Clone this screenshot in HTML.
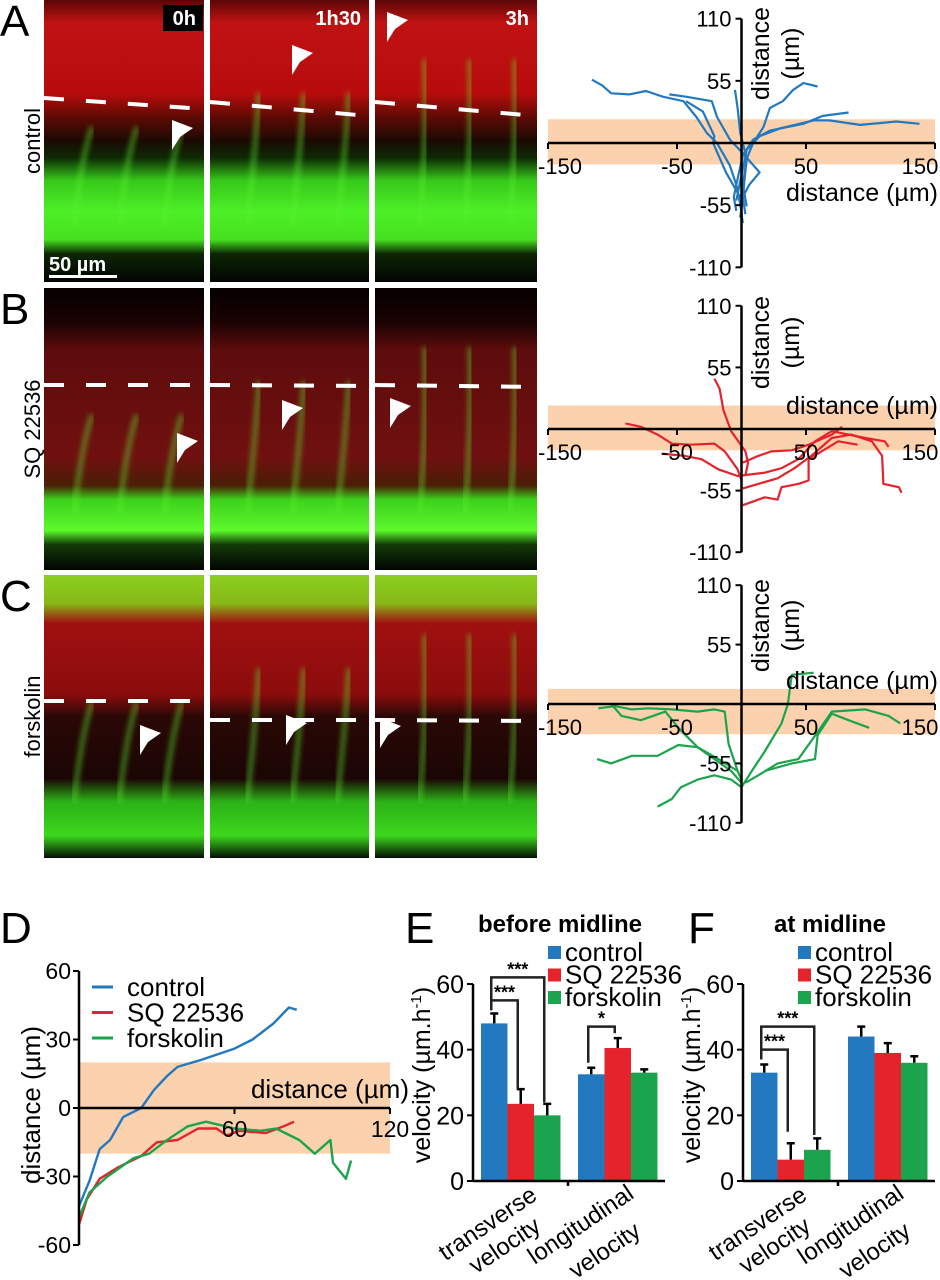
<!DOCTYPE html>
<html><head><meta charset="utf-8"><style>
html,body{margin:0;padding:0;background:#fff;}
svg{display:block;font-family:"Liberation Sans",Arial,sans-serif;}
</style></head><body>
<svg id="fig" width="940" height="1280" viewBox="0 0 940 1280" xmlns="http://www.w3.org/2000/svg">
<defs>
<linearGradient id="gA" x1="0" y1="0" x2="0" y2="1">
<stop offset="0" stop-color="#5a0606"/><stop offset="0.08" stop-color="#c01212"/><stop offset="0.33" stop-color="#b80c0c"/><stop offset="0.42" stop-color="#5a0a04"/><stop offset="0.5" stop-color="#1a0a02"/><stop offset="0.56" stop-color="#0e2a04"/><stop offset="0.64" stop-color="#36c81a"/><stop offset="0.75" stop-color="#4cf026"/><stop offset="0.85" stop-color="#46e020"/><stop offset="0.9" stop-color="#0c2604"/><stop offset="1" stop-color="#020402"/>
</linearGradient>
<linearGradient id="gB" x1="0" y1="0" x2="0" y2="1">
<stop offset="0" stop-color="#060000"/><stop offset="0.12" stop-color="#1a0202"/><stop offset="0.22" stop-color="#5e0c0c"/><stop offset="0.6" stop-color="#701010"/><stop offset="0.7" stop-color="#4a1e06"/><stop offset="0.75" stop-color="#3cd01c"/><stop offset="0.86" stop-color="#5cfa2c"/><stop offset="0.91" stop-color="#123a06"/><stop offset="1" stop-color="#020402"/>
</linearGradient>
<linearGradient id="gC" x1="0" y1="0" x2="0" y2="1">
<stop offset="0" stop-color="#8ad020"/><stop offset="0.1" stop-color="#88b818"/><stop offset="0.17" stop-color="#a01010"/><stop offset="0.42" stop-color="#8c0c0c"/><stop offset="0.5" stop-color="#2a0806"/><stop offset="0.72" stop-color="#1a0604"/><stop offset="0.8" stop-color="#2cb016"/><stop offset="0.92" stop-color="#3cd81c"/><stop offset="1" stop-color="#041004"/>
</linearGradient>
<filter id="blur3"><feGaussianBlur stdDeviation="3"/></filter>
</defs>
<g id="micro"></g>
<g id="traj"></g>
<g id="plotD"></g>
<g id="plotE"></g>
<g id="plotF"></g>
</svg>
<script>
// ===== data =====
const conditions = ["control", "SQ 22536", "forskolin"];
const colors = ["#2379bf", "#e5232b", "#1ca34d"];
const timepoints = ["0h", "1h30", "3h"];
const trajA = [
 [[-116,56],[-108,51],[-101,44],[-87,43],[-74,46],[-61,41],[-45,37],[-35,23],[-27,9],[-19,0],[-9,-20],[-4,-37],[-1,-54],[1,-71]],
 [[-56,43],[-43,41],[-23,37],[-19,23],[-9,3],[1,-9],[14,-26],[6,-37],[1,-48],[-1,-66]],
 [[-5,47],[-3,31],[-1,9],[4,-14],[1,-37],[4,-56]],
 [[59,50],[48,53],[40,47],[32,37],[22,31],[17,14],[9,0],[4,-14],[1,-48],[3,-63]],
 [[138,17],[120,19],[92,16],[68,20],[56,20],[30,13],[14,6],[4,-6],[-1,-34],[-4,-51]],
 [[83,27],[63,24],[48,17],[22,11],[9,3],[1,-11],[-4,-37],[-6,-48],[-4,-60]],
 [[-43,37],[-30,28],[-21,6],[-22,0],[-12,-26],[-1,-48]]
];
const trajB = [
 [[-21,45],[-17,36],[-14,17],[-8,-2],[3,-20],[5,-30],[3,-42]],
 [[-90,5],[-78,2],[-65,-5],[-54,-13],[-39,-14],[-21,-13],[-13,-20],[-3,-36],[0,-46]],
 [[-62,-22],[-44,-24],[-31,-27],[-18,-36],[-3,-42],[18,-39],[31,-35],[44,-27],[57,-11],[70,-2],[83,-5],[96,-8],[111,-11],[114,-16]],
 [[1,-53],[13,-49],[28,-44],[41,-35],[54,-24],[70,-8],[85,-5],[101,-11],[109,-24],[110,-49],[122,-52],[124,-57]],
 [[1,-68],[18,-61],[28,-63],[31,-52],[44,-49],[52,-46],[52,-27],[62,-20],[75,-11],[90,-14]],
 [[1,-30],[13,-24],[23,-20],[39,-19],[52,-14],[70,-5],[78,2]]
];
const trajC = [
 [[-111,-4],[-98,-2],[-85,-5],[-72,-4],[-54,-5],[-34,-7],[-21,-5],[-13,-7],[-10,-37],[-3,-62],[0,-70]],
 [[-101,0],[-93,-11],[-78,-15],[-59,-7],[-49,-22],[-34,-40],[-21,-51],[-8,-62],[0,-73]],
 [[-112,-51],[-101,-55],[-85,-48],[-65,-48],[-49,-38],[-34,-40],[-18,-51],[-3,-62]],
 [[-65,-95],[-54,-88],[-47,-77],[-34,-70],[-21,-66],[-8,-70],[0,-77]],
 [[56,29],[39,27],[36,0],[31,-18],[18,-44],[8,-62],[0,-77]],
 [[123,-18],[114,-11],[96,-5],[70,-7],[59,-26],[44,-51],[28,-55],[13,-66],[3,-73]],
 [[99,-22],[83,-15],[70,-9],[59,-29],[57,-51],[39,-55],[18,-62]]
];
const trajTicksX = [-150, -50, 50, 150];
const trajTicksY = [110, 55, -55, -110];
const dControl = [[0,-43],[4,-32],[8,-18],[12,-14],[17,-4],[24,0],[29,8],[34,14],[38,18],[47,21],[60,26],[67,30],[75,37],[81,44],[84,43]];
const dSQ = [[0,-51],[3,-40],[8,-31],[15,-26],[24,-21],[30,-15],[38,-14],[46,-9],[53,-9],[57,-12],[62,-10],[72,-11],[79,-8],[83,-6]];
const dFsk = [[0,-48],[4,-37],[11,-30],[21,-22],[27,-20],[34,-14],[42,-8],[49,-6],[60,-9],[70,-10],[76,-9],[85,-14],[91,-20],[97,-14],[98,-24],[103,-31],[105,-23]];
const dTicksY = [60, 30, 0, -30, -60];
const dTicksX = [60, 120];
const velGroups = ["transverse velocity", "longitudinal velocity"];
const eMeans = [[48, 23.5, 20], [32.5, 40.5, 33]];
const eErr = [[3, 4.5, 3.5], [2, 3, 1]];
const fMeans = [[33, 6.5, 9.5], [44, 39, 36]];
const fErr = [[2.5, 5, 3.5], [3, 3, 2]];
const velTicks = [0, 20, 40, 60];

// ===== helpers =====
const NS = "http://www.w3.org/2000/svg";
function mk(parent, tag, attrs, text) {
  const e = document.createElementNS(NS, tag);
  for (const k in attrs) e.setAttribute(k, attrs[k]);
  if (text !== undefined) e.textContent = text;
  parent.appendChild(e);
  return e;
}
const FONT = '"Liberation Sans",Arial,sans-serif';

// ===== microscopy =====
const micro = document.getElementById('micro');
const cols = [[44,204],[210,369],[375,537]];
const rows = [{y0:0,y1:282,g:'gA'},{y0:288,y1:570,g:'gB'},{y0:575,y1:858,g:'gC'}];
const dashY = [[[98,109],[102,116],[102,116]],[[385,385],[385,386],[385,387]],[[701,701],[720,720],[720,721]]];
const arrows = [[[172,120],[292,45],[387,12]],[[177,433],[282,400],[390,398]],[[140,725],[286,715],[380,718]]];
const rowLabels = ["control","SQ 22536","forskolin"];
const letters = ["A","B","C"];
rows.forEach((r,ri)=>{
  cols.forEach((c,ci)=>{
    const g = mk(micro,'g',{});
    
    
    mk(g,'rect',{x:c[0],y:r.y0,width:c[1]-c[0],height:r.y1-r.y0,fill:'url(#'+r.g+')'});
    const h = r.y1-r.y0;
    for (let k=0;k<3;k++){
      const x = c[0]+30+k*45+ci*7;
      mk(g,'path',{d:`M${x} ${r.y0+h*0.8} Q${x+8} ${r.y0+h*0.55} ${x+18-ci*6} ${r.y0+h*(0.45-ci*0.12)}`,stroke:'#5cf030',fill:'none','stroke-width':3,opacity:0.8,filter:'url(#blur3)'});
    }
    const dy = dashY[ri][ci];
    const dl = mk(g,'line',{x1:c[0],y1:dy[0],x2:c[1],y2:dy[1],stroke:'#fff','stroke-width':4,'stroke-dasharray':'20 22'});
    
    
    const a = arrows[ri][ci];
    const ar = mk(g,'polygon',{points:`${a[0]},${a[1]} ${a[0]+21},${a[1]+8} ${a[0]+8},${a[1]+17} ${a[0]},${a[1]+30}`,fill:'#fff'});
    
    
    if (ri===0){
      const tw = 40;
      if (ci===0) mk(g,'rect',{x:c[1]-tw-1,y:5,width:tw,height:26,fill:'#000'});
      const t = mk(g,'text',{x:c[1]-8,y:25,'text-anchor':'end',fill:'#fff','font-size':20,'font-weight':'bold','font-family':FONT},timepoints[ci]);
      
      
    }
  });
  const L = mk(micro,'text',{x:0,y:r.y0+36,'font-size':44,'font-family':FONT},letters[ri]);
  
  
  const cy = (r.y0+r.y1)/2;
  const rl = mk(micro,'text',{x:0,y:0,'font-size':22,'font-family':FONT,'text-anchor':'middle',transform:`translate(40 ${cy}) rotate(-90)`},rowLabels[ri]);
  
  
});
const sbt = mk(micro,'text',{x:49,y:271,fill:'#fff','font-size':20,'font-weight':'bold','font-family':FONT},'50 µm');


const sb = mk(micro,'rect',{x:49,y:275,width:68,height:3,fill:'#fff'});



// ===== trajectory plots =====
const traj = document.getElementById('traj');
const tx = v => 741.5 + v*1.29;
const tpanels = [
 {data:trajA,c:colors[0],y0:143,s:1.13,band:[21,-19],titleBelow:true,yt:[7,100]},
 {data:trajB,c:colors[1],y0:429,s:1.12,band:[21,-19],titleBelow:false,yt:[295,390]},
 {data:trajC,c:colors[2],y0:704,s:1.08,band:[14,-28],titleBelow:false,yt:[577,674]}
];
tpanels.forEach((p,pi)=>{
  const g = mk(traj,'g',{});
  
  
  const ty = v => p.y0 - v*p.s;
  const band = mk(g,'rect',{x:tx(-150),y:ty(p.band[0]),width:tx(150)-tx(-150),height:ty(p.band[1])-ty(p.band[0]),fill:'#fbd2ad'});
  
  
  p.data.forEach(tr=>{
    const pl = mk(g,'polyline',{points:tr.map(q=>tx(q[0]).toFixed(1)+','+ty(q[1]).toFixed(1)).join(' '),fill:'none',stroke:p.c,'stroke-width':2.2,'stroke-linejoin':'round'});
    
    
  });
  mk(g,'line',{x1:tx(-150),y1:p.y0,x2:tx(150),y2:p.y0,stroke:'#000','stroke-width':2.5});
  mk(g,'line',{x1:tx(0),y1:ty(110),x2:tx(0),y2:ty(-110),stroke:'#000','stroke-width':2.5});
  trajTicksX.forEach(v=>{
    mk(g,'line',{x1:tx(v),y1:p.y0,x2:tx(v),y2:p.y0+6,stroke:'#000','stroke-width':2});
    let lx = tx(v); if (v===-150) lx+=12; if (v===150) lx-=15;
    const t = mk(g,'text',{x:lx,y:p.y0+31,'text-anchor':'middle','font-size':22,'font-family':FONT},String(v));
    
    
  });
  trajTicksY.forEach(v=>{
    mk(g,'line',{x1:tx(0)-6,y1:ty(v),x2:tx(0),y2:ty(v),stroke:'#000','stroke-width':2});
    const t = mk(g,'text',{x:tx(0)-10,y:ty(v)+8,'text-anchor':'end','font-size':22,'font-family':FONT},String(v));
    
    
  });
  const cy = (p.yt[0]+p.yt[1])/2;
  const yt1 = mk(g,'text',{x:0,y:0,'text-anchor':'middle','font-size':25,'font-family':FONT,transform:`translate(769 ${cy}) rotate(-90)`},'distance');
  
  
  const yt2 = mk(g,'text',{x:0,y:0,'text-anchor':'middle','font-size':25,'font-family':FONT,transform:`translate(799 ${cy}) rotate(-90)`},'(µm)');
  
  
  const xt = mk(g,'text',{x:938,y:p.titleBelow?p.y0+58:p.y0-15,'text-anchor':'end','font-size':25,'font-family':FONT},'distance (µm)');
  
  
});

// ===== panel D =====
const gD = document.getElementById('plotD');
const dx = v => 79 + v*(390-79)/120;
const dy = v => 1108 - v*(1108-971)/60;
const Dl = mk(gD,'text',{x:0,y:943,'font-size':44,'font-family':FONT},'D');


const dband = mk(gD,'rect',{x:dx(0),y:dy(20),width:dx(120)-dx(0),height:dy(-20)-dy(20),fill:'#fbd2ad'});


[dControl,dSQ,dFsk].forEach((s,i)=>{
  const pl = mk(gD,'polyline',{points:s.map(q=>dx(q[0]).toFixed(1)+','+dy(q[1]).toFixed(1)).join(' '),fill:'none',stroke:colors[i],'stroke-width':2.4,'stroke-linejoin':'round'});
  
  
});
mk(gD,'line',{x1:dx(0),y1:dy(0),x2:dx(120),y2:dy(0),stroke:'#000','stroke-width':2.5});
mk(gD,'line',{x1:dx(0),y1:dy(60),x2:dx(0),y2:dy(-60),stroke:'#000','stroke-width':2.5});
dTicksY.forEach(v=>{
  mk(gD,'line',{x1:dx(0)-6,y1:dy(v),x2:dx(0),y2:dy(v),stroke:'#000','stroke-width':2});
  const t = mk(gD,'text',{x:dx(0)-8,y:dy(v)+8,'text-anchor':'end','font-size':23,'font-family':FONT},String(v));
  
  
});
dTicksX.forEach(v=>{
  mk(gD,'line',{x1:dx(v),y1:dy(0),x2:dx(v),y2:dy(0)+6,stroke:'#000','stroke-width':2});
  const t = mk(gD,'text',{x:dx(v),y:dy(0)+29,'text-anchor':'middle','font-size':23,'font-family':FONT},String(v));
  
  
});
const dxt = mk(gD,'text',{x:409,y:1098,'text-anchor':'end','font-size':26,'font-family':FONT},'distance (µm)');


const dyt = mk(gD,'text',{x:0,y:0,'text-anchor':'middle','font-size':26,'font-family':FONT,transform:'translate(40 1105) rotate(-90)'},'distance (µm)');


conditions.forEach((c,i)=>{
  const ly = 987 + i*25.5;
  const g = mk(gD,'g',{});
  
  
  mk(g,'line',{x1:92,y1:ly,x2:113,y2:ly,stroke:colors[i],'stroke-width':3});
  mk(g,'text',{x:127,y:ly+9,'font-size':26,'font-family':FONT},c);
});

// ===== bar charts E/F =====
function barChart(gid, letter, title, axisX, letterX, legendX, means, errs, sig) {
  const g = document.getElementById(gid);
  const vy = v => 1181 - v*(1181-984)/60;
  const bw = 26.5;
  const gx = [axisX+8, axisX+105];
  const L = mk(g,'text',{x:letterX,y:943,'font-size':44,'font-family':FONT},letter);
  
  
  const T = mk(g,'text',{x:axisX+87,y:932,'text-anchor':'middle','font-size':24,'font-weight':'bold','font-family':FONT},title);
  
  
  means.forEach((grp,gi)=>{
    grp.forEach((v,ci)=>{
      const x = gx[gi] + ci*bw;
      const b = mk(g,'rect',{x:x,y:vy(v),width:bw,height:vy(0)-vy(v),fill:colors[ci]});
      
      
      const cx = x + bw/2;
      const e = errs[gi][ci];
      const eb = mk(g,'path',{d:`M${cx} ${vy(v)} V${vy(v+e)} M${cx-4} ${vy(v+e)} H${cx+4}`,stroke:'#000','stroke-width':2.5,fill:'none'});
      
      
    });
  });
  mk(g,'line',{x1:axisX,y1:vy(0),x2:axisX+192,y2:vy(0),stroke:'#000','stroke-width':2.5});
  mk(g,'line',{x1:axisX,y1:vy(60),x2:axisX,y2:vy(0),stroke:'#000','stroke-width':2.5});
  mk(g,'line',{x1:axisX+95,y1:vy(0),x2:axisX+95,y2:vy(0)+5,stroke:'#000','stroke-width':2.5});
  velTicks.forEach(v=>{
    mk(g,'line',{x1:axisX-6,y1:vy(v),x2:axisX,y2:vy(v),stroke:'#000','stroke-width':2});
    const t = mk(g,'text',{x:axisX-9,y:vy(v)+9,'text-anchor':'end','font-size':25,'font-family':FONT},String(v));
    
    
  });
  const yt = mk(g,'text',{x:0,y:0,'text-anchor':'middle','font-size':25,'font-family':FONT,transform:`translate(${axisX-43} 1075) rotate(-90)`});
  
  
  yt.appendChild(document.createTextNode('velocity (µm.h'));
  mk(yt,'tspan',{'font-size':15,dy:-9},'-1');
  mk(yt,'tspan',{dy:9},')');
  const cl = [[[axisX+19,1230,'transverse'],[axisX+36,1252,'velocity']],[[axisX+112,1231,'longitudinal'],[axisX+136,1257,'velocity']]];
  cl.forEach((pair,i)=>pair.forEach(p=>{
    const t = mk(g,'text',{x:0,y:0,'text-anchor':'middle','font-size':24,'font-family':FONT,transform:`translate(${p[0]} ${p[1]}) rotate(-34)`},p[2]);
    
    
  }));
  conditions.forEach((c,i)=>{
    const ly = 952 + i*22.5;
    const lg = mk(g,'g',{});
    
    
    mk(lg,'rect',{x:legendX,y:ly-6,width:13,height:13,fill:colors[i]});
    mk(lg,'text',{x:legendX+17,y:ly+9,'font-size':26,'font-family':FONT},c);
  });
  sig.forEach(s=>{
    const x1 = gx[s.g] + s.a*bw + bw/2 - 3, x2 = gx[s.g] + s.b*bw + bw/2 - 3;
    const top = vy(s.top);
    const br = mk(g,'path',{d:`M${x1} ${vy(s.l)} V${top} H${x2} V${vy(s.r)}`,stroke:'#222','stroke-width':2.5,fill:'none'});
    
    
    const st = mk(g,'text',{x:(x1+x2)/2,y:top-2,'text-anchor':'middle','font-size':18,'font-weight':'bold','font-family':FONT},s.txt);
    
    
  });
}
barChart('plotE','E','before midline',473,405,548,eMeans,eErr,[
  {g:0,a:0,b:2,top:62,l:52,r:24,txt:'***'},
  {g:0,a:0,b:1,top:55,l:52,r:28,txt:'***'},
  {g:1,a:0,b:1,top:47,l:36,r:45,txt:'*'}
]);
barChart('plotF','F','at midline',743,688,798,fMeans,fErr,[
  {g:0,a:0,b:2,top:47,l:37,r:14,txt:'***'},
  {g:0,a:0,b:1,top:40,l:37,r:15,txt:'***'}
]);
</script>
</body></html>
